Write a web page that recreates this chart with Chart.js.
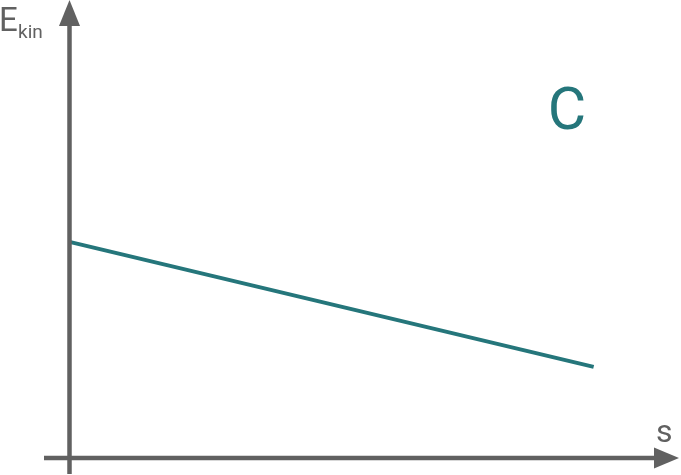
<!DOCTYPE html>
<html>
<head>
<meta charset="utf-8">
<script src="https://cdn.jsdelivr.net/npm/chart.js@4.4.0/dist/chart.umd.min.js"></script>
<style>
  html, body { margin: 0; padding: 0; background: #fff; }
  #wrap { width: 681px; height: 475px; position: relative; }
</style>
</head>
<body>
<div id="wrap"><canvas id="ekinChart"></canvas></div>
<script>
// data (arbitrary units, axes 0..10)
const sValues = [0, 8.6];
const ekinValues = [4.72, 1.99];
const curveLabel = 'C';
const yAxisLabel = 'E';
const yAxisSub = 'kin';
const xAxisLabel = 's';

const axisColor = '#616161';
const lineColor = '#25767b';

const points = sValues.map((s, i) => ({ x: s, y: ekinValues[i] }));

// draws the arrowed axes and the labels on top of the line
const axesPlugin = {
    id: 'arrowAxes',
    afterDatasetsDraw(chart) {
        const ctx = chart.ctx;
        const xs = chart.scales.x;
        const ys = chart.scales.y;
        const x0 = xs.getPixelForValue(0);
        const y0 = ys.getPixelForValue(0);
        const top = ys.getPixelForValue(ys.max);
        const right = xs.getPixelForValue(xs.max);

        ctx.save();
        ctx.strokeStyle = axisColor;
        ctx.fillStyle = axisColor;
        ctx.lineWidth = 4.5;

        // y axis
        ctx.beginPath();
        ctx.moveTo(x0, 474);
        ctx.lineTo(x0, top + 20);
        ctx.stroke();
        ctx.beginPath();
        ctx.moveTo(x0, top);
        ctx.lineTo(x0 + 10.5, top + 26);
        ctx.lineTo(x0 - 10.5, top + 26);
        ctx.closePath();
        ctx.fill();

        // x axis
        ctx.beginPath();
        ctx.moveTo(44, y0);
        ctx.lineTo(right - 20, y0);
        ctx.stroke();
        ctx.beginPath();
        ctx.moveTo(right, y0);
        ctx.lineTo(right - 25, y0 - 10.5);
        ctx.lineTo(right - 25, y0 + 10.5);
        ctx.closePath();
        ctx.fill();

        // labels
        ctx.textBaseline = 'alphabetic';
        ctx.textAlign = 'left';
        ctx.font = '33px Roboto';
        ctx.fillText(yAxisLabel, -1, 31);
        ctx.font = '19px Roboto';
        ctx.fillText(yAxisSub, 18, 38);
        ctx.font = '32px Roboto';
        ctx.fillText(xAxisLabel, 656, 442);

        ctx.fillStyle = lineColor;
        ctx.font = '59px Roboto';
        ctx.textAlign = 'center';
        ctx.fillText(curveLabel, 567, 129);
        ctx.restore();
    }
};

const ctx = document.getElementById('ekinChart').getContext('2d');

new Chart(ctx, {
    type: 'line',
    data: {
        datasets: [{
            label: 'Ekin',
            data: points,
            borderColor: lineColor,
            borderWidth: 4,
            pointRadius: 0,
            tension: 0,
            fill: false,
            clip: false
        }]
    },
    options: {
        responsive: true,
        maintainAspectRatio: false,
        animation: false,
        layout: {
            padding: { left: 69.5, right: 2, top: 0, bottom: 17 }
        },
        scales: {
            x: { type: 'linear', min: 0, max: 10, display: false },
            y: { type: 'linear', min: 0, max: 10, display: false }
        },
        plugins: {
            legend: { display: false },
            tooltip: { enabled: false }
        }
    },
    plugins: [axesPlugin]
});
</script>
</body>
</html>
